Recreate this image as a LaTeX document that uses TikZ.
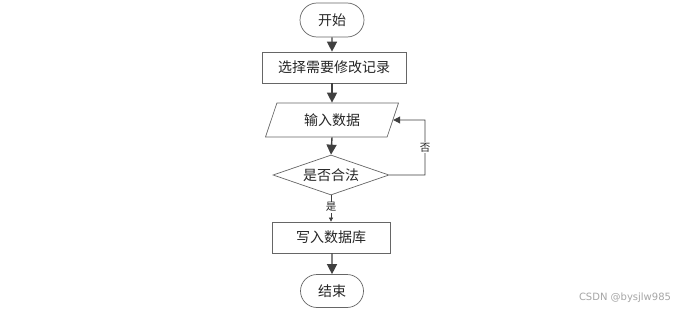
\documentclass[tikz,border=0pt]{standalone}
\usepackage{fontspec}
\setmainfont{Noto Sans CJK SC}
\newfontfamily\wmfont{DejaVu Sans}
\usetikzlibrary{shapes.geometric,shapes.misc,arrows.meta}
\begin{document}
\begin{tikzpicture}[x=1pt,y=-1pt,
  every node/.style={font=\fontsize{14}{16}\selectfont, text=black!85, inner sep=0pt},
  term/.style={rounded rectangle, draw=black!60, line width=0.7pt, minimum width=64pt, minimum height=34pt},
  procbox/.style={rectangle, draw=black!60, line width=0.7pt, minimum width=144pt, minimum height=31pt},
  iobox/.style={trapezium, trapezium left angle=66, trapezium right angle=114, trapezium stretches=true, draw=black!60, line width=0.7pt, minimum width=133pt, minimum height=34pt},
  decide/.style={diamond, draw=black!60, line width=0.7pt, minimum width=116pt, minimum height=40pt, aspect=2.9},
  flow/.style={draw=black!75, line width=1.4pt, -{Triangle[length=10pt,width=10pt]}},
  thinflow/.style={draw=black!75, line width=0.8pt, -{Triangle[length=7pt,width=7pt]}},
  lbl/.style={fill=white, font=\fontsize{10.5}{12}\selectfont, inner sep=1pt}
]
\useasboundingbox (0,0) rectangle (683,313);
\fill[white] (0,0) rectangle (683,313);
\node[term] (start) at (332,20) {开始};
\node[procbox] (sel) at (334,67.5) {选择需要修改记录};
\node[iobox] (inp) at (332,120) {输入数据};
\node[decide] (chk) at (331,175) {是否合法};
\node[procbox, minimum width=118pt] (write) at (331,237.5) {写入数据库};
\node[term, minimum width=63pt, minimum height=33pt] (stop) at (332,291) {结束};
\coordinate (c1) at (425,175);
\coordinate (c2) at (425,120);
\draw[flow] (start) -- (sel.north -| start);
\draw[flow] (sel.south -| start) -- (inp.north -| start);
\draw[flow] (inp.south -| start) -- (chk.north);
\draw[draw=black!75, line width=0.6pt, -{Triangle[length=4pt,width=4pt]}] (chk.south) -- node[lbl, pos=0.45] (yes) {是} (write.north);
\draw[flow] (write.south -| stop) -- (stop);
\draw[thinflow] (chk.east) -- (c1) -- node[lbl, pos=0.5] (no) {否} (c2) -- (inp.east);
\node[font=\wmfont\fontsize{10}{12}\selectfont, text=black!35] (wm) at (625,298) {CSDN @bysjlw985};
\end{tikzpicture}
\end{document}
